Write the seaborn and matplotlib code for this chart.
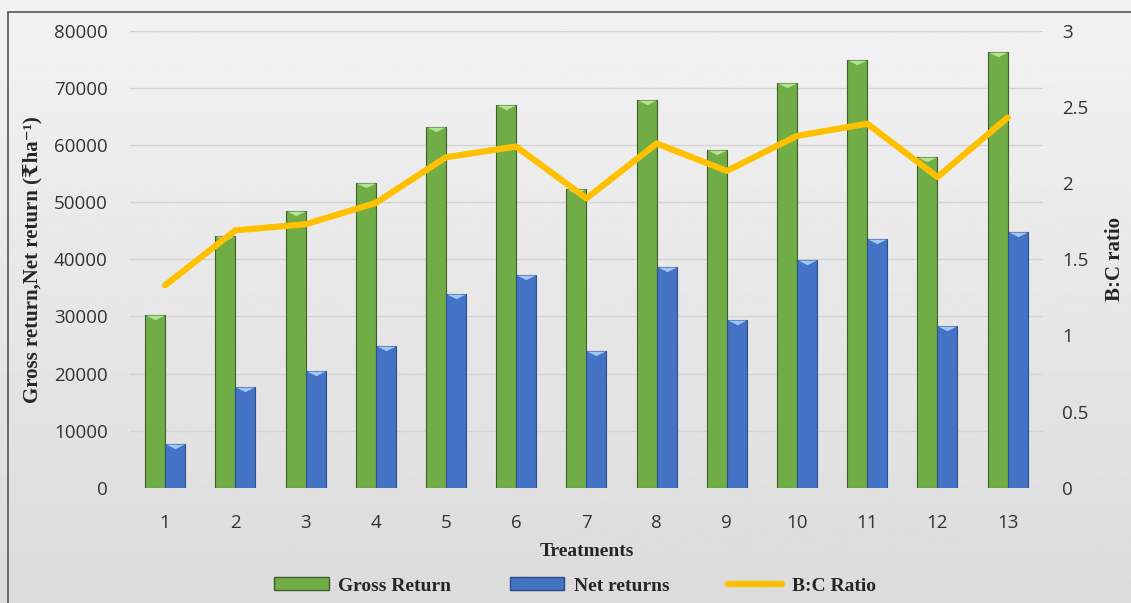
import numpy as np
import pandas as pd
import matplotlib
matplotlib.use("Agg")
import matplotlib.pyplot as plt
import seaborn as sns
from matplotlib.patches import Patch, Rectangle
from matplotlib.lines import Line2D

# data
treatments = [str(i) for i in range(1, 14)]
gross_return = [30200, 44000, 48500, 53300, 63100, 67000, 52300, 67900, 59200, 70900, 74900, 57900, 76200]
net_return = [7600, 17700, 20500, 24900, 34000, 37300, 23900, 38700, 29400, 39800, 43600, 28400, 44800]
bc_ratio = [1.33, 1.69, 1.73, 1.87, 2.17, 2.24, 1.90, 2.26, 2.08, 2.31, 2.39, 2.04, 2.43]

df = pd.DataFrame({
    "Treatment": treatments * 2,
    "value": gross_return + net_return,
    "series": ["Gross Return"] * 13 + ["Net returns"] * 13,
})

sns.set_theme(style="white")
serif = ["Liberation Serif", "DejaVu Serif", "DejaVu Sans"]
tick_font = "Open Sans"

green, blue, gold = "#70AD47", "#4472C4", "#FFC000"
green_edge, blue_edge = "#3e5f2a", "#2f4f8a"

fig = plt.figure(figsize=(11.31, 6.03), dpi=100)

# soft gray gradient background like the office chart
bg = fig.add_axes([0, 0, 1, 1], zorder=-10)
grad = np.linspace(0.95, 0.86, 256).reshape(-1, 1)
bg.imshow(grad, aspect="auto", cmap="gray", vmin=0, vmax=1, extent=[0, 1, 0, 1])
bg.add_patch(Rectangle((8 / 1131, -0.01), 1.1, (603 - 12) / 603 + 0.01,
                       fill=False, edgecolor="#555555", lw=1.2, transform=bg.transAxes))
bg.set_axis_off()

ax = fig.add_axes([0.115, 0.191, 0.807, 0.758])
ax.set_facecolor("none")

sns.barplot(data=df, x="Treatment", y="value", hue="series",
            palette=[green, blue], width=0.57, gap=0, ax=ax, legend=False,
            edgecolor=green_edge, linewidth=0.8, saturation=1, zorder=3)

# bevel highlight triangle on top of each bar
tri = [(-1, 0), (1, 0), (0, -0.5), (-1, 0)]
for bar in ax.patches:
    is_blue = abs(bar.get_facecolor()[2] - 0.77) < 0.05
    if is_blue:
        bar.set_edgecolor(blue_edge)
    ax.plot(bar.get_x() + bar.get_width() / 2, bar.get_height(), marker=tri,
            markersize=13.5, color="#9fc6f5" if is_blue else "#b4e394",
            markeredgewidth=0, zorder=4)

ax.set_ylim(0, 80000)
ax.set_yticks(np.arange(0, 80001, 10000))
ax.yaxis.grid(True, color="#d4d4d4", lw=1, zorder=0)
ax.set_axisbelow(True)
for s in ax.spines.values():
    s.set_visible(False)
ax.tick_params(axis="y", length=0, labelsize=13.5, labelcolor="#333333", pad=16)
ax.tick_params(axis="x", length=0, labelsize=13.5, labelcolor="#333333", pad=19)
for lab in ax.get_xticklabels() + ax.get_yticklabels():
    lab.set_family(tick_font)
ax.set_xlabel("Treatments", family=serif, fontweight="bold", fontsize=14, labelpad=8)
ax.set_ylabel("Gross return,Net return (₹ha⁻¹)", family=serif, fontweight="bold",
              fontsize=15, labelpad=8)

ax2 = ax.twinx()
ax2.set_facecolor("none")
sns.lineplot(x=np.arange(13), y=bc_ratio, color=gold, lw=4.5, ax=ax2, zorder=5)
ax2.set_ylim(0, 3)
ax2.set_yticks([0, 0.5, 1, 1.5, 2, 2.5, 3])
ax2.set_yticklabels(["0", "0.5", "1", "1.5", "2", "2.5", "3"])
for s in ax2.spines.values():
    s.set_visible(False)
ax2.tick_params(axis="y", length=0, labelsize=13.5, labelcolor="#333333", pad=14)
for lab in ax2.get_yticklabels():
    lab.set_family(tick_font)
ax2.set_ylabel("B:C ratio", family=serif, fontweight="bold", fontsize=15, labelpad=12)
ax.set_xlim(-0.5, 12.5)

handles = [
    Patch(facecolor=green, edgecolor=green_edge),
    Patch(facecolor=blue, edgecolor=blue_edge),
    Line2D([0], [0], color=gold, lw=4.5),
]
fig.legend(handles, ["Gross Return", "Net returns", "B:C Ratio"], loc="center",
           bbox_to_anchor=(575 / 1131, 1 - 586 / 603), ncol=3, frameon=False,
           prop={"family": serif, "weight": "bold", "size": 14},
           handlelength=2.8, handleheight=0.6, columnspacing=3.0, handletextpad=0.5)

fig.savefig("out.png", dpi=100)
